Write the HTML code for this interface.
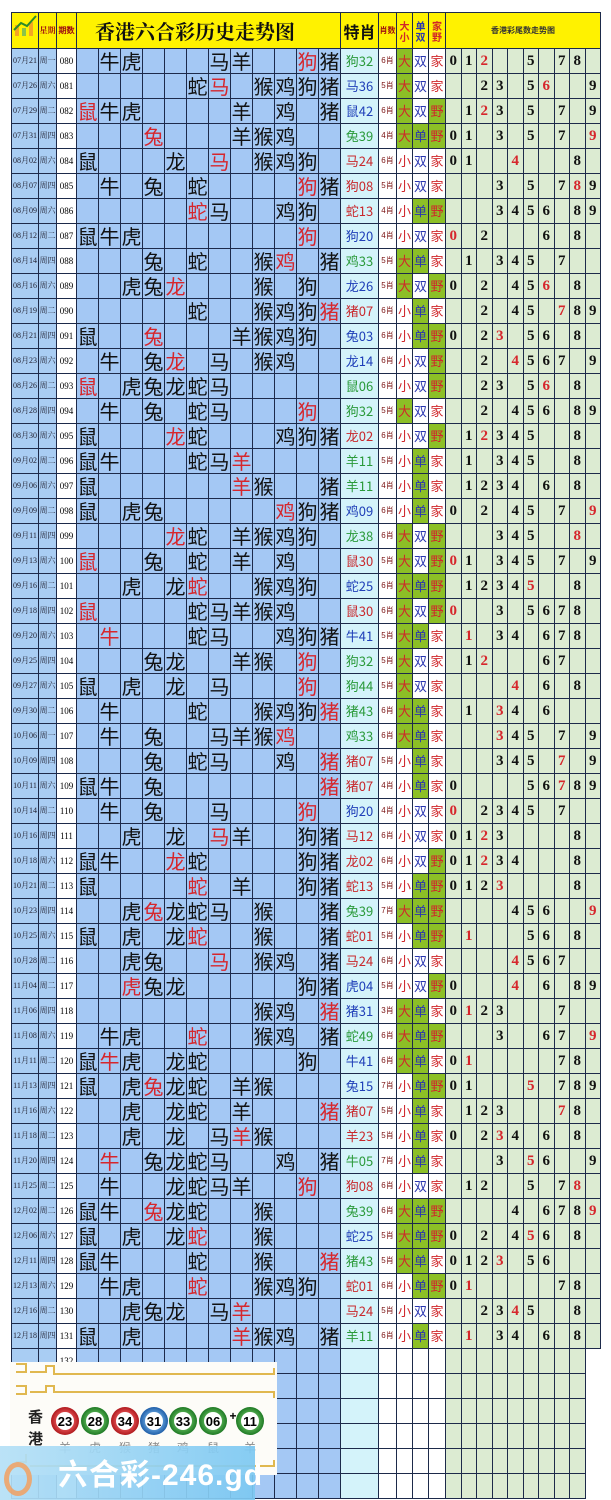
<!DOCTYPE html>
<html><head><meta charset="utf-8"><style>
body{margin:0;width:611px;height:1500px;background:#fff;overflow:hidden;position:relative;font-family:"Liberation Sans","Noto Sans CJK SC",sans-serif}
table{position:absolute;left:11px;top:12px;border-collapse:collapse;table-layout:fixed;width:589px}
td{border:1px solid #1d2a4a;height:24px;padding:0;text-align:center;overflow:hidden;white-space:nowrap;line-height:24px}
tr.h td{height:27px;background:#fff200;font-weight:bold}
td:nth-child(1),td:nth-child(2){font-size:8px;font-family:"Liberation Serif","Noto Serif CJK SC",serif;color:#223}
td:nth-child(3){font-size:9px;font-family:"Liberation Serif",serif}
td:nth-child(n+4):nth-child(-n+15){font-size:20px;font-family:"Noto Sans CJK SC",sans-serif;color:#111}
td:nth-child(16){font-size:13px;font-family:"Noto Sans CJK SC",sans-serif}
td:nth-child(17){font-size:8px;color:#7a1010}
td:nth-child(18){font-size:13px;color:#d0262a;font-family:"Noto Sans CJK SC",sans-serif}
td:nth-child(19){font-size:13px;color:#2a36b0;font-family:"Noto Sans CJK SC",sans-serif}
td:nth-child(20){font-size:13px;color:#d0262a;font-family:"Noto Sans CJK SC",sans-serif}
td:nth-child(n+21){font-size:15px;font-weight:bold;font-family:"Liberation Serif",serif;color:#111}
td.r,td:nth-child(n).r{color:#d6262c}
td:nth-child(16).R{color:#c8282c}td:nth-child(16).B{color:#1f3fb8}td:nth-child(16).G{color:#2a9a3a}
td.g{background:#8cbf26 !important}
</style></head><body>
<table>
<colgroup><col style="width:27px;background:#a9cdf3"><col style="width:18px;background:#a9cdf3"><col style="width:20px;background:#fff">
<col span="12" style="width:22px;background:#a4c8f4">
<col style="width:38px;background:#d4f3fa"><col style="width:18px;background:#fff"><col style="width:16px;background:#fff"><col style="width:16px;background:#fff"><col style="width:17px;background:#fff">
<col span="10" style="width:15.5px;background:#dcebd2"></colgroup>
<tr class="h"><td style="background:#fff200"><svg width="25" height="25"><rect x="2" y="12" width="4" height="11" fill="#f5a623"/><rect x="9" y="15" width="4" height="8" fill="#8bc34a"/><rect x="16" y="9" width="4" height="14" fill="#f5a623"/><polyline points="1,17 8,10 14,13 23,3" fill="none" stroke="#2a8a2a" stroke-width="2"/></svg><td style="font-size:8px;color:#a01010">星期<td style="font-size:8px;color:#a01010">期数<td colspan="12" style="font-size:20px;font-family:'Noto Serif CJK SC',serif;color:#111;text-align:left;padding-left:18px">香港六合彩历史走势图<td style="font-size:16px">特肖<td style="font-size:8px;color:#a01010">肖数<td style="font-size:10px;color:#d0262a;line-height:11px">大<br>小<td style="font-size:10px;color:#2a36b0;line-height:11px">单<br>双<td style="font-size:10px;color:#d0262a;line-height:11px">家<br>野<td colspan="10" style="font-size:8px;color:#333;background:#fff200">香港彩尾数走势图</tr>
<tr><td>07月21<td>周一<td>080<td><td>牛<td>虎<td><td><td><td>马<td>羊<td><td><td class=r>狗<td>猪<td class=G>狗32<td>6肖<td class=g>大<td>双<td>家<td>0<td>1<td class=r>2<td><td><td>5<td><td>7<td>8<td></tr>
<tr><td>07月26<td>周六<td>081<td><td><td><td><td><td>蛇<td class=r>马<td><td>猴<td>鸡<td>狗<td>猪<td class=B>马36<td>5肖<td class=g>大<td>双<td>家<td><td><td>2<td>3<td><td>5<td class=r>6<td><td><td>9</tr>
<tr><td>07月29<td>周二<td>082<td class=r>鼠<td>牛<td>虎<td><td><td><td><td>羊<td><td>鸡<td><td>猪<td class=B>鼠42<td>6肖<td class=g>大<td>双<td class=g>野<td><td>1<td class=r>2<td>3<td><td>5<td><td>7<td><td>9</tr>
<tr><td>07月31<td>周四<td>083<td><td><td><td class=r>兔<td><td><td><td>羊<td>猴<td>鸡<td><td><td class=G>兔39<td>4肖<td class=g>大<td class=g>单<td class=g>野<td>0<td>1<td><td>3<td><td>5<td><td>7<td><td class=r>9</tr>
<tr><td>08月02<td>周六<td>084<td>鼠<td><td><td><td>龙<td><td class=r>马<td><td>猴<td>鸡<td>狗<td><td class=R>马24<td>6肖<td>小<td>双<td>家<td>0<td>1<td><td><td class=r>4<td><td><td><td>8<td></tr>
<tr><td>08月07<td>周四<td>085<td><td>牛<td><td>兔<td><td>蛇<td><td><td><td><td class=r>狗<td>猪<td class=R>狗08<td>5肖<td>小<td>双<td>家<td><td><td><td>3<td><td>5<td><td>7<td class=r>8<td>9</tr>
<tr><td>08月09<td>周六<td>086<td><td><td><td><td><td class=r>蛇<td>马<td><td><td>鸡<td>狗<td><td class=R>蛇13<td>4肖<td>小<td class=g>单<td class=g>野<td><td><td><td>3<td>4<td>5<td>6<td><td>8<td>9</tr>
<tr><td>08月12<td>周二<td>087<td>鼠<td>牛<td>虎<td><td><td><td><td><td><td><td class=r>狗<td><td class=B>狗20<td>4肖<td>小<td>双<td>家<td class=r>0<td><td>2<td><td><td><td>6<td><td>8<td></tr>
<tr><td>08月14<td>周四<td>088<td><td><td><td>兔<td><td>蛇<td><td><td>猴<td class=r>鸡<td><td>猪<td class=G>鸡33<td>5肖<td class=g>大<td class=g>单<td>家<td><td>1<td><td>3<td>4<td>5<td><td>7<td><td></tr>
<tr><td>08月16<td>周六<td>089<td><td><td>虎<td>兔<td class=r>龙<td><td><td><td>猴<td><td>狗<td><td class=B>龙26<td>5肖<td class=g>大<td>双<td class=g>野<td>0<td><td>2<td><td>4<td>5<td class=r>6<td><td>8<td></tr>
<tr><td>08月19<td>周二<td>090<td><td><td><td><td><td>蛇<td><td><td>猴<td>鸡<td>狗<td class=r>猪<td class=R>猪07<td>6肖<td>小<td class=g>单<td>家<td><td><td>2<td><td>4<td>5<td><td class=r>7<td>8<td>9</tr>
<tr><td>08月21<td>周四<td>091<td>鼠<td><td><td class=r>兔<td><td><td><td>羊<td>猴<td>鸡<td>狗<td><td class=B>兔03<td>6肖<td>小<td class=g>单<td class=g>野<td>0<td><td>2<td class=r>3<td><td>5<td>6<td><td>8<td></tr>
<tr><td>08月23<td>周六<td>092<td><td>牛<td><td>兔<td class=r>龙<td><td>马<td><td>猴<td>鸡<td><td><td class=B>龙14<td>6肖<td>小<td>双<td class=g>野<td><td><td>2<td><td class=r>4<td>5<td>6<td>7<td><td>9</tr>
<tr><td>08月26<td>周二<td>093<td class=r>鼠<td><td>虎<td>兔<td>龙<td>蛇<td>马<td><td><td><td><td><td class=G>鼠06<td>6肖<td>小<td>双<td class=g>野<td><td><td>2<td>3<td><td>5<td class=r>6<td><td>8<td></tr>
<tr><td>08月28<td>周四<td>094<td><td>牛<td><td>兔<td><td>蛇<td>马<td><td><td><td class=r>狗<td><td class=G>狗32<td>5肖<td class=g>大<td>双<td>家<td><td><td>2<td><td>4<td>5<td>6<td><td>8<td>9</tr>
<tr><td>08月30<td>周六<td>095<td>鼠<td><td><td><td class=r>龙<td>蛇<td><td><td><td>鸡<td>狗<td>猪<td class=R>龙02<td>6肖<td>小<td>双<td class=g>野<td><td>1<td class=r>2<td>3<td>4<td>5<td><td><td>8<td></tr>
<tr><td>09月02<td>周二<td>096<td>鼠<td>牛<td><td><td><td>蛇<td>马<td class=r>羊<td><td><td><td><td class=G>羊11<td>5肖<td>小<td class=g>单<td>家<td><td>1<td><td>3<td>4<td>5<td><td><td>8<td></tr>
<tr><td>09月06<td>周六<td>097<td>鼠<td><td><td><td><td><td><td class=r>羊<td>猴<td><td><td>猪<td class=G>羊11<td>4肖<td>小<td class=g>单<td>家<td><td>1<td>2<td>3<td>4<td><td>6<td><td>8<td></tr>
<tr><td>09月09<td>周二<td>098<td>鼠<td><td>虎<td>兔<td><td><td><td><td><td class=r>鸡<td>狗<td>猪<td class=B>鸡09<td>6肖<td>小<td class=g>单<td>家<td>0<td><td>2<td><td>4<td>5<td><td>7<td><td class=r>9</tr>
<tr><td>09月11<td>周四<td>099<td><td><td><td><td class=r>龙<td>蛇<td><td>羊<td>猴<td>鸡<td>狗<td><td class=G>龙38<td>6肖<td class=g>大<td>双<td class=g>野<td><td><td><td>3<td>4<td>5<td><td><td class=r>8<td></tr>
<tr><td>09月13<td>周六<td>100<td class=r>鼠<td><td><td>兔<td><td>蛇<td><td>羊<td><td>鸡<td><td><td class=R>鼠30<td>5肖<td class=g>大<td>双<td class=g>野<td class=r>0<td>1<td><td>3<td>4<td>5<td><td>7<td><td>9</tr>
<tr><td>09月16<td>周二<td>101<td><td><td>虎<td><td>龙<td class=r>蛇<td><td><td>猴<td>鸡<td>狗<td><td class=B>蛇25<td>6肖<td class=g>大<td class=g>单<td class=g>野<td><td>1<td>2<td>3<td>4<td class=r>5<td><td><td>8<td></tr>
<tr><td>09月18<td>周四<td>102<td class=r>鼠<td><td><td><td><td>蛇<td>马<td>羊<td>猴<td>鸡<td><td><td class=R>鼠30<td>6肖<td class=g>大<td>双<td class=g>野<td class=r>0<td><td><td>3<td><td>5<td>6<td>7<td>8<td></tr>
<tr><td>09月20<td>周六<td>103<td><td class=r>牛<td><td><td><td>蛇<td>马<td><td><td>鸡<td>狗<td>猪<td class=B>牛41<td>5肖<td class=g>大<td class=g>单<td>家<td><td class=r>1<td><td>3<td>4<td><td>6<td>7<td>8<td></tr>
<tr><td>09月25<td>周四<td>104<td><td><td><td>兔<td>龙<td><td><td>羊<td>猴<td><td class=r>狗<td><td class=G>狗32<td>5肖<td class=g>大<td>双<td>家<td><td>1<td class=r>2<td><td><td><td>6<td>7<td><td></tr>
<tr><td>09月27<td>周六<td>105<td>鼠<td><td>虎<td><td>龙<td><td>马<td><td><td><td class=r>狗<td><td class=G>狗44<td>5肖<td class=g>大<td>双<td>家<td><td><td><td><td class=r>4<td><td>6<td><td>8<td></tr>
<tr><td>09月30<td>周二<td>106<td><td>牛<td><td><td><td>蛇<td><td><td>猴<td>鸡<td>狗<td class=r>猪<td class=G>猪43<td>6肖<td class=g>大<td class=g>单<td>家<td><td>1<td><td class=r>3<td>4<td><td>6<td><td><td></tr>
<tr><td>10月06<td>周一<td>107<td><td>牛<td><td>兔<td><td><td>马<td>羊<td>猴<td class=r>鸡<td><td><td class=G>鸡33<td>6肖<td class=g>大<td class=g>单<td>家<td><td><td><td class=r>3<td>4<td>5<td><td>7<td><td>9</tr>
<tr><td>10月09<td>周四<td>108<td><td><td><td>兔<td><td>蛇<td>马<td><td><td>鸡<td><td class=r>猪<td class=R>猪07<td>5肖<td>小<td class=g>单<td>家<td><td><td><td>3<td>4<td>5<td><td class=r>7<td><td>9</tr>
<tr><td>10月11<td>周六<td>109<td>鼠<td>牛<td><td>兔<td><td><td><td><td><td><td><td class=r>猪<td class=R>猪07<td>4肖<td>小<td class=g>单<td>家<td>0<td><td><td><td><td>5<td>6<td class=r>7<td>8<td>9</tr>
<tr><td>10月14<td>周二<td>110<td><td>牛<td><td>兔<td><td><td>马<td><td><td><td class=r>狗<td><td class=B>狗20<td>4肖<td>小<td>双<td>家<td class=r>0<td><td>2<td>3<td>4<td>5<td><td>7<td><td></tr>
<tr><td>10月16<td>周四<td>111<td><td><td>虎<td><td>龙<td><td class=r>马<td>羊<td><td><td>狗<td>猪<td class=R>马12<td>6肖<td>小<td>双<td>家<td>0<td>1<td class=r>2<td>3<td><td><td><td><td>8<td></tr>
<tr><td>10月18<td>周六<td>112<td>鼠<td>牛<td><td><td class=r>龙<td>蛇<td><td><td><td><td>狗<td>猪<td class=R>龙02<td>6肖<td>小<td>双<td class=g>野<td>0<td>1<td class=r>2<td>3<td>4<td><td><td><td>8<td></tr>
<tr><td>10月21<td>周二<td>113<td>鼠<td><td><td><td><td class=r>蛇<td><td>羊<td><td><td>狗<td>猪<td class=R>蛇13<td>5肖<td>小<td class=g>单<td class=g>野<td>0<td>1<td>2<td class=r>3<td><td><td><td><td>8<td></tr>
<tr><td>10月23<td>周四<td>114<td><td><td>虎<td class=r>兔<td>龙<td>蛇<td>马<td><td>猴<td><td><td>猪<td class=G>兔39<td>7肖<td class=g>大<td class=g>单<td class=g>野<td><td><td><td><td>4<td>5<td>6<td><td><td class=r>9</tr>
<tr><td>10月25<td>周六<td>115<td>鼠<td><td>虎<td><td>龙<td class=r>蛇<td><td><td>猴<td><td><td>猪<td class=R>蛇01<td>5肖<td>小<td class=g>单<td class=g>野<td><td class=r>1<td><td><td><td>5<td>6<td><td>8<td></tr>
<tr><td>10月28<td>周二<td>116<td><td><td>虎<td>兔<td><td><td class=r>马<td><td>猴<td>鸡<td><td>猪<td class=R>马24<td>6肖<td>小<td>双<td>家<td><td><td><td><td class=r>4<td>5<td>6<td>7<td><td></tr>
<tr><td>11月04<td>周二<td>117<td><td><td class=r>虎<td>兔<td>龙<td><td><td><td><td><td>狗<td>猪<td class=B>虎04<td>5肖<td>小<td>双<td class=g>野<td>0<td><td><td><td class=r>4<td><td>6<td><td>8<td>9</tr>
<tr><td>11月06<td>周四<td>118<td><td><td><td><td><td><td><td><td>猴<td>鸡<td><td class=r>猪<td class=B>猪31<td>3肖<td class=g>大<td class=g>单<td>家<td>0<td class=r>1<td>2<td>3<td><td><td><td>7<td><td></tr>
<tr><td>11月08<td>周六<td>119<td><td>牛<td>虎<td><td><td class=r>蛇<td><td><td>猴<td>鸡<td><td>猪<td class=G>蛇49<td>6肖<td class=g>大<td class=g>单<td class=g>野<td><td><td><td>3<td><td><td>6<td>7<td><td class=r>9</tr>
<tr><td>11月11<td>周二<td>120<td>鼠<td class=r>牛<td>虎<td><td>龙<td>蛇<td><td><td><td><td>狗<td><td class=B>牛41<td>6肖<td class=g>大<td class=g>单<td>家<td>0<td class=r>1<td><td><td><td><td><td>7<td>8<td></tr>
<tr><td>11月13<td>周四<td>121<td>鼠<td><td>虎<td class=r>兔<td>龙<td>蛇<td><td>羊<td>猴<td><td><td><td class=B>兔15<td>7肖<td>小<td class=g>单<td class=g>野<td>0<td>1<td><td><td><td class=r>5<td><td>7<td>8<td>9</tr>
<tr><td>11月16<td>周六<td>122<td><td><td>虎<td><td>龙<td>蛇<td><td>羊<td><td><td><td class=r>猪<td class=R>猪07<td>5肖<td>小<td class=g>单<td>家<td><td>1<td>2<td>3<td><td><td><td class=r>7<td>8<td></tr>
<tr><td>11月18<td>周二<td>123<td><td><td>虎<td><td>龙<td><td>马<td class=r>羊<td>猴<td><td><td><td class=R>羊23<td>5肖<td>小<td class=g>单<td>家<td>0<td><td>2<td class=r>3<td>4<td><td>6<td><td>8<td></tr>
<tr><td>11月20<td>周四<td>124<td><td class=r>牛<td><td>兔<td>龙<td>蛇<td>马<td><td><td>鸡<td><td>猪<td class=G>牛05<td>7肖<td>小<td class=g>单<td>家<td><td><td><td>3<td><td class=r>5<td>6<td><td><td>9</tr>
<tr><td>11月25<td>周二<td>125<td><td>牛<td><td><td>龙<td>蛇<td>马<td>羊<td><td><td class=r>狗<td><td class=R>狗08<td>6肖<td>小<td>双<td>家<td><td>1<td>2<td><td><td>5<td><td>7<td class=r>8<td></tr>
<tr><td>12月02<td>周二<td>126<td>鼠<td>牛<td><td class=r>兔<td>龙<td>蛇<td><td><td>猴<td><td><td><td class=G>兔39<td>6肖<td class=g>大<td class=g>单<td class=g>野<td><td><td><td><td>4<td><td>6<td>7<td>8<td class=r>9</tr>
<tr><td>12月06<td>周六<td>127<td>鼠<td><td>虎<td><td>龙<td class=r>蛇<td><td><td>猴<td><td><td><td class=B>蛇25<td>5肖<td class=g>大<td class=g>单<td class=g>野<td>0<td><td>2<td><td>4<td class=r>5<td>6<td><td>8<td></tr>
<tr><td>12月11<td>周四<td>128<td>鼠<td>牛<td><td><td><td>蛇<td><td><td>猴<td><td><td class=r>猪<td class=G>猪43<td>5肖<td class=g>大<td class=g>单<td>家<td>0<td>1<td>2<td class=r>3<td><td>5<td>6<td><td><td></tr>
<tr><td>12月13<td>周六<td>129<td><td>牛<td>虎<td><td><td class=r>蛇<td><td><td>猴<td>鸡<td>狗<td><td class=R>蛇01<td>6肖<td>小<td class=g>单<td class=g>野<td>0<td class=r>1<td><td><td><td><td><td>7<td>8<td></tr>
<tr><td>12月16<td>周二<td>130<td><td><td>虎<td>兔<td>龙<td><td>马<td class=r>羊<td><td><td><td><td class=R>马24<td>5肖<td>小<td>双<td>家<td><td><td>2<td>3<td class=r>4<td>5<td><td><td>8<td></tr>
<tr><td>12月18<td>周四<td>131<td>鼠<td><td>虎<td><td><td><td><td class=r>羊<td>猴<td>鸡<td><td>猪<td class=G>羊11<td>6肖<td>小<td class=g>单<td>家<td><td class=r>1<td><td>3<td>4<td><td>6<td><td>8<td></tr>
<tr><td><td><td>132<td><td><td><td><td><td><td><td><td><td><td><td><td><td><td><td><td><td><td><td><td><td><td><td><td><td></tr>
<tr><td><td><td><td><td><td><td><td><td><td><td><td><td><td><td><td><td><td><td><td><td><td><td><td><td><td><td><td><td></tr>
<tr><td><td><td><td><td><td><td><td><td><td><td><td><td><td><td><td><td><td><td><td><td><td><td><td><td><td><td><td><td></tr>
<tr><td><td><td><td><td><td><td><td><td><td><td><td><td><td><td><td><td><td><td><td><td><td><td><td><td><td><td><td><td></tr>
<tr><td><td><td><td><td><td><td><td><td><td><td><td><td><td><td><td><td><td><td><td><td><td><td><td><td><td><td><td><td></tr>
<tr><td><td><td><td><td><td><td><td><td><td><td><td><td><td><td><td><td><td><td><td><td><td><td><td><td><td><td><td><td></tr>
</table>
<div style="position:absolute;left:10px;top:1362px;width:267px;height:113px;background:#fdfcf8">
<svg width="267" height="113" style="position:absolute;left:0;top:0"><g fill="none" stroke="#e0b850" stroke-width="2"><path d="M6,2 h10 v8 h-10 M20,10 h16 v-6 h8 v8 h220 v-6"/><path d="M6,24 h10 v8 h-10 M20,30 h16 v-6 h8 v6 h220 v6"/><path d="M6,100 h10 v-8 M20,104 h244 v-6"/></g></svg>
<div style="position:absolute;left:18px;top:44px;width:16px;font-size:15px;font-weight:bold;line-height:22px;font-family:'Noto Sans CJK SC',sans-serif;color:#222">香港</div>
<svg width="267" height="113" style="position:absolute;left:0;top:0;font-family:'Liberation Sans',sans-serif"><defs><radialGradient id="rr"><stop offset="0.5" stop-color="#e8575a"/><stop offset="1" stop-color="#b01a1e"/></radialGradient><radialGradient id="gg"><stop offset="0.5" stop-color="#5fb85a"/><stop offset="1" stop-color="#1f7a25"/></radialGradient><radialGradient id="bb"><stop offset="0.5" stop-color="#6aa8e0"/><stop offset="1" stop-color="#1f5ea8"/></radialGradient></defs>
<g font-size="13" font-weight="bold" text-anchor="middle">
<circle cx="55" cy="59" r="14" fill="url(#rr)"/><circle cx="55" cy="59" r="9" fill="#fff"/><text x="55" y="64">23</text>
<circle cx="85" cy="59" r="14" fill="url(#gg)"/><circle cx="85" cy="59" r="9" fill="#fff"/><text x="85" y="64">28</text>
<circle cx="115" cy="59" r="14" fill="url(#rr)"/><circle cx="115" cy="59" r="9" fill="#fff"/><text x="115" y="64">34</text>
<circle cx="144" cy="59" r="14" fill="url(#bb)"/><circle cx="144" cy="59" r="9" fill="#fff"/><text x="144" y="64">31</text>
<circle cx="173" cy="59" r="14" fill="url(#gg)"/><circle cx="173" cy="59" r="9" fill="#fff"/><text x="173" y="64">33</text>
<circle cx="203" cy="59" r="14" fill="url(#gg)"/><circle cx="203" cy="59" r="9" fill="#fff"/><text x="203" y="64">06</text>
<text x="223" y="58" font-size="12">+</text>
<circle cx="240" cy="59" r="14" fill="url(#gg)"/><circle cx="240" cy="59" r="9" fill="#fff"/><text x="240" y="64">11</text>
</g>
<g font-size="12" fill="#888" text-anchor="middle" font-family="'Noto Sans CJK SC',sans-serif"><text x="55" y="90">羊</text><text x="85" y="90">虎</text><text x="115" y="90">猴</text><text x="144" y="90">猪</text><text x="173" y="90">鸡</text><text x="203" y="90">鼠</text><text x="240" y="90">羊</text></g></svg>
</div>
<div style="position:absolute;left:0;top:1446px;width:255px;height:54px;background:linear-gradient(90deg,#b5e0f6,#7cc8f2);opacity:0.92"></div>
<div style="position:absolute;left:4px;top:1462px;width:28px;height:34px;border-radius:50%;border:5px solid #f2a060;box-sizing:border-box;opacity:.85"></div>
<div style="position:absolute;left:58px;top:1450px;font-size:30px;font-weight:bold;color:#fff;font-family:'Liberation Sans','Noto Sans CJK SC',sans-serif;letter-spacing:1px">六合彩-246.gd</div>
</body></html>
